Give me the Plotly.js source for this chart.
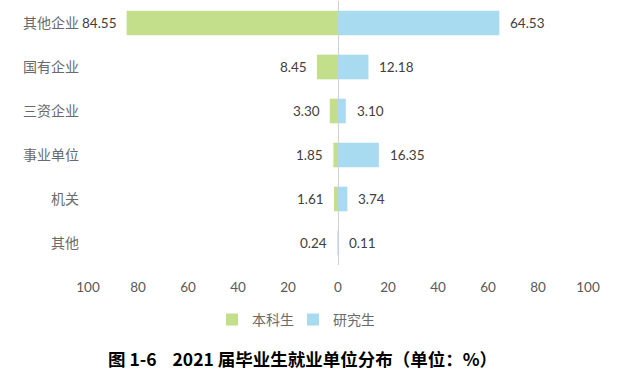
<!DOCTYPE html>
<html><head><meta charset="utf-8">
<script src="https://cdn.plot.ly/plotly-3.0.1.min.js"></script>
<style>html,body{margin:0;padding:0;background:#fff;}</style>
</head><body>
<div id="chart" style="width:621px;height:371px;"></div>
<script>
const categories = ['其他企业','国有企业','三资企业','事业单位','机关','其他'];
const undergrad = [84.55, 8.45, 3.30, 1.85, 1.61, 0.24];
const graduate = [64.53, 12.18, 3.10, 16.35, 3.74, 0.11];
const tickVals = [-100,-80,-60,-40,-20,0,20,40,60,80,100];
const tickText = ['100','80','60','40','20','0','20','40','60','80','100'];
const seriesNames = ['本科生','研究生'];
const titleText = '图 1-6&nbsp;&nbsp;&nbsp;&nbsp;2021 届毕业生就业单位分布（单位：%）';

const green = '#c4df8b', blue = '#a9dbf0';
const labelFont = {family:'Lato, "Open Sans", sans-serif', size:13.5, color:'#404040'};

const traces = [
  {type:'bar', orientation:'h', name:seriesNames[0], y:categories, x:undergrad.map(v=>-v),
   marker:{color:green}, hoverinfo:'skip'},
  {type:'bar', orientation:'h', name:seriesNames[1], y:categories, x:graduate,
   marker:{color:blue}, hoverinfo:'skip'}
];

const annotations = [];
categories.forEach((c,i)=>{
  annotations.push({x:-undergrad[i], y:c, xref:'x', yref:'y', text:undergrad[i].toFixed(2),
    showarrow:false, xanchor:'right', xshift:-8, font:labelFont});
  annotations.push({x:graduate[i], y:c, xref:'x', yref:'y', text:graduate[i].toFixed(2),
    showarrow:false, xanchor:'left', xshift:9, font:labelFont});
});
annotations.push({x:0.5, y:0, xref:'paper', yref:'paper', yshift:-93, text:'<b>'+titleText+'</b>',
  showarrow:false, xanchor:'center', yanchor:'middle', xshift:-36,
  font:{family:'"Noto Sans CJK SC", sans-serif', size:17.5, color:'#000'}});

const layout = {
  width:621, height:371,
  margin:{l:88, r:33, t:1, b:106},
  paper_bgcolor:'#fff', plot_bgcolor:'#fff',
  barmode:'relative', bargap:0.44,
  showlegend:true,
  legend:{orientation:'h', x:0.41, xanchor:'center', y:-0.208, yanchor:'middle',
    font:{family:'"Noto Sans CJK SC", sans-serif', size:14, color:'#6a6a6a'},
    entrywidth:36, entrywidthmode:'pixels', traceorder:'normal'},
  xaxis:{range:[-100,100], tickvals:tickVals, ticktext:tickText, showgrid:false,
    zeroline:true, zerolinecolor:'#d0d0d0', zerolinewidth:1, showline:false, ticks:'',
    ticklabelstandoff:12,
    tickfont:{family:'Lato, "Open Sans", sans-serif', size:13.5, color:'#595959'}, fixedrange:true},
  yaxis:{autorange:'reversed', showgrid:false, zeroline:false, showline:false, ticks:'',
    ticklabelstandoff:8,
    tickfont:{family:'"Noto Sans CJK SC", serif', size:14, color:'#6a6a6a'}, fixedrange:true},
  annotations:annotations
};
Plotly.newPlot('chart', traces, layout, {displayModeBar:false, staticPlot:true});
</script>
</body></html>
